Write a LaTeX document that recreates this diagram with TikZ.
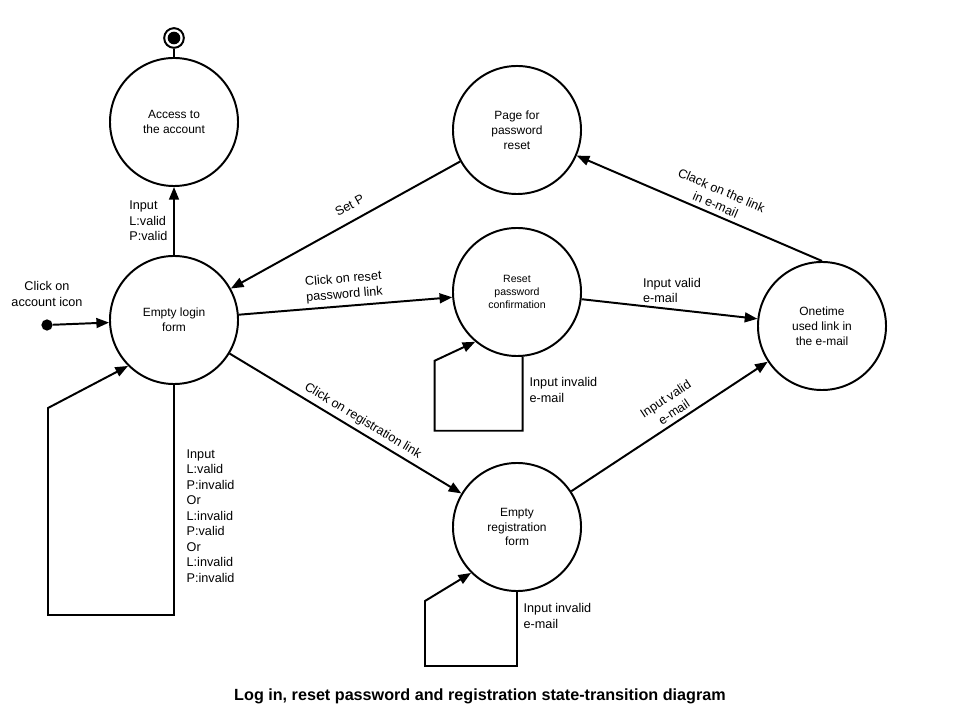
\documentclass[tikz,border=0pt]{standalone}
\usepackage{fontspec}
\setmainfont{Liberation Sans}
\usetikzlibrary{arrows.meta,positioning}

\begin{document}
\begin{tikzpicture}[
    x=0.025cm, y=-0.025cm,
    state/.style={circle, draw=black, line width=1.4pt, minimum size=3.2cm, align=center, font=\fontsize{8.5}{10.5}\selectfont},
    arrow/.style={line width=1.4pt, -{Triangle[length=9pt,width=7pt]}},
    lbl/.style={align=left, font=\fontsize{9}{11}\selectfont, inner sep=3pt},
    title/.style={font=\bfseries\fontsize{11.5}{13}\selectfont}
]
\useasboundingbox (0,0) rectangle (960,720);

% States
\node[state] (access) at (174,122) {Access to\\the account};
\node[state] (login) at (174,320) {Empty login\\form};
\node[state] (reset) at (517,130) {Page for\\password\\reset};
\node[state, font=\fontsize{7.5}{9.5}\selectfont] (confirm) at (517,292) {Reset\\password\\confirmation};
\node[state] (link) at (822,326) {Onetime\\used link in\\the e-mail};
\node[state] (regform) at (517,527) {Empty\\registration\\form};

% Start and final
\node[circle, fill=black, inner sep=0pt, minimum size=8pt] (start) at (47,325) {};
\node[circle, draw=black, line width=1.4pt, inner sep=0pt, minimum size=14pt] (final) at (174,38) {};
\fill (final) circle (4.5pt);
\node[lbl, align=center, inner sep=1pt] (clickicon) at (47,294) {Click on\\account icon};

% Transitions
\draw[arrow] (start) -- (login);
\draw[line width=1.4pt] (access) -- (final);
\draw[arrow] (login) -- node[lbl, left, pos=0.5, inner sep=1pt, xshift=-3pt] {Input\\L:valid\\P:valid} (access);
\draw[arrow] (reset) -- node[lbl, above, sloped, pos=0.45, yshift=4pt] {Set P} (login);
\draw[arrow] (login) -- node[lbl, above, sloped, align=center] {Click on reset\\password link} (confirm);
\draw[arrow] (confirm) -- node[lbl, above, pos=0.45, xshift=8pt] {Input valid\\e-mail} (link);
\draw[arrow] (link.north) -- node[lbl, above, sloped, align=center, pos=0.45] {Clack on the link\\in e-mail} (reset);
\draw[arrow] (login) -- node[lbl, above, sloped, pos=0.55] {Click on registration link} (regform);
\draw[arrow] (regform) -- node[lbl, above, sloped, align=center, pos=0.55] {Input valid\\e-mail} (link);

% Self loops
\draw[arrow] (login.270) -- ++(0,230) -- ++(-126,0) -- ++(0,-207) -- (login.225);
\node[lbl, anchor=north west, inner sep=1pt] (loginloop) at (185,448) {Input\\L:valid\\P:invalid\\Or\\L:invalid\\P:valid\\Or\\L:invalid\\P:invalid};
\draw[arrow] (confirm.275) -- ++(0,74) -- ++(-88,0) -- ++(0,-70) -- (confirm.230);
\node[lbl, anchor=north west, inner sep=1pt] (confirmloop) at (528,376) {Input invalid\\e-mail};
\draw[arrow] (regform.270) -- ++(0,74) -- ++(-92,0) -- ++(0,-65) -- (regform.225);
\node[lbl, anchor=north west, inner sep=1pt] (regloop) at (522,602) {Input invalid\\e-mail};

% Caption
\node[title] (caption) at (480,696) {Log in, reset password and registration state-transition diagram};
\end{tikzpicture}
\end{document}
